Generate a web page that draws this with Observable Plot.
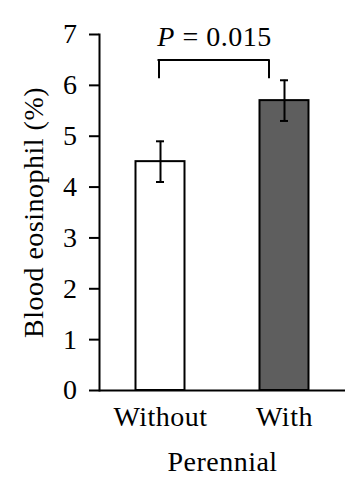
<!DOCTYPE html>
<html>
<head>
<meta charset="utf-8">
<script src="https://cdn.jsdelivr.net/npm/d3@7"></script>
<script src="https://cdn.jsdelivr.net/npm/@observablehq/plot@0.6"></script>
<style>
  html, body { margin: 0; padding: 0; background: white; }
</style>
</head>
<body>
<div id="chart"></div>
<script>
// ---- data ----
const categories = ["Without", "With"];
const values = [4.5, 5.7];
const errLow = [4.1, 5.3];
const errHigh = [4.9, 6.1];
const barFills = ["white", "#5e5e5e"];
const yTicks = [0, 1, 2, 3, 4, 5, 6, 7];
const yLabel = "Blood eosinophil (%)";
const xLabel = "Perennial";
const pLabel = "P = 0.015";
const bracketFrom = ["Without"];
const bracketTo = ["With"];
const bracketTop = [6.5];
const bracketFoot = [6.13];

const data = categories.map((c, i) => ({cat: c, value: values[i], lo: errLow[i], hi: errHigh[i], fill: barFills[i]}));
const bracket = bracketFrom.map((f, i) => ({from: f, to: bracketTo[i], top: bracketTop[i], foot: bracketFoot[i]}));

const sw = 2;
const fs = 28;
const chart = Plot.plot({
  width: 363,
  height: 500,
  marginLeft: 99,
  marginRight: 18,
  marginTop: 34,
  marginBottom: 110,
  style: {fontFamily: "Liberation Serif", fontSize: fs + "px", background: "white", color: "black", letterSpacing: "0.5px"},
  x: {type: "point", domain: categories, padding: 0.49},
  y: {domain: [0, 7]},
  color: {type: "identity"},
  marks: [
    Plot.rectY(data, {x1: "cat", x2: "cat", y1: 0, y2: "value", fill: "fill", stroke: "black", strokeWidth: sw, insetLeft: -24.5, insetRight: -24.5}),
    Plot.ruleX(data, {x: "cat", y1: "lo", y2: "hi", strokeWidth: sw}),
    Plot.ruleY(data, {x1: "cat", x2: "cat", y: "hi", insetLeft: -4, insetRight: -4, strokeWidth: sw}),
    Plot.ruleY(data, {x1: "cat", x2: "cat", y: "lo", insetLeft: -4, insetRight: -4, strokeWidth: sw}),
    Plot.ruleY(bracket, {x1: "from", x2: "to", y: "top", insetLeft: -1.5, insetRight: 15.5, strokeWidth: sw, strokeLinecap: "square"}),
    Plot.ruleX(bracket, {x: "from", y1: "foot", y2: "top", dx: -1.5, strokeWidth: sw}),
    Plot.ruleX(bracket, {x: "to", y1: "foot", y2: "top", dx: -15.5, strokeWidth: sw}),
    Plot.text(bracket, {x: "from", y: "top", text: () => pLabel, dx: 54, dy: -23, fontSize: fs}),
    Plot.ruleY([0], {strokeWidth: sw}),
    Plot.frame({anchor: "left", strokeWidth: sw}),
    Plot.axisY({ticks: yTicks, tickSize: 10, tickPadding: 12, strokeWidth: sw, label: null, tickFormat: d => String(d), fontSize: fs}),
    Plot.axisX({tickSize: 0, tickPadding: 16, label: null, fontSize: fs}),
    Plot.text([xLabel], {text: d => d, frameAnchor: "bottom", dy: 80, fontSize: fs}),
    Plot.text([yLabel], {text: d => d, frameAnchor: "left", textAnchor: "middle", dx: -65, rotate: -90, fontSize: fs})
  ]
});

// italicize the P in the annotation
d3.select(chart).selectAll("text").each(function() {
  if (this.textContent === pLabel) {
    const t = d3.select(this);
    t.text(null);
    t.append("tspan").attr("font-style", "italic").text("P");
    t.append("tspan").text(pLabel.slice(1));
  }
});

document.getElementById("chart").appendChild(chart);
</script>
</body>
</html>
